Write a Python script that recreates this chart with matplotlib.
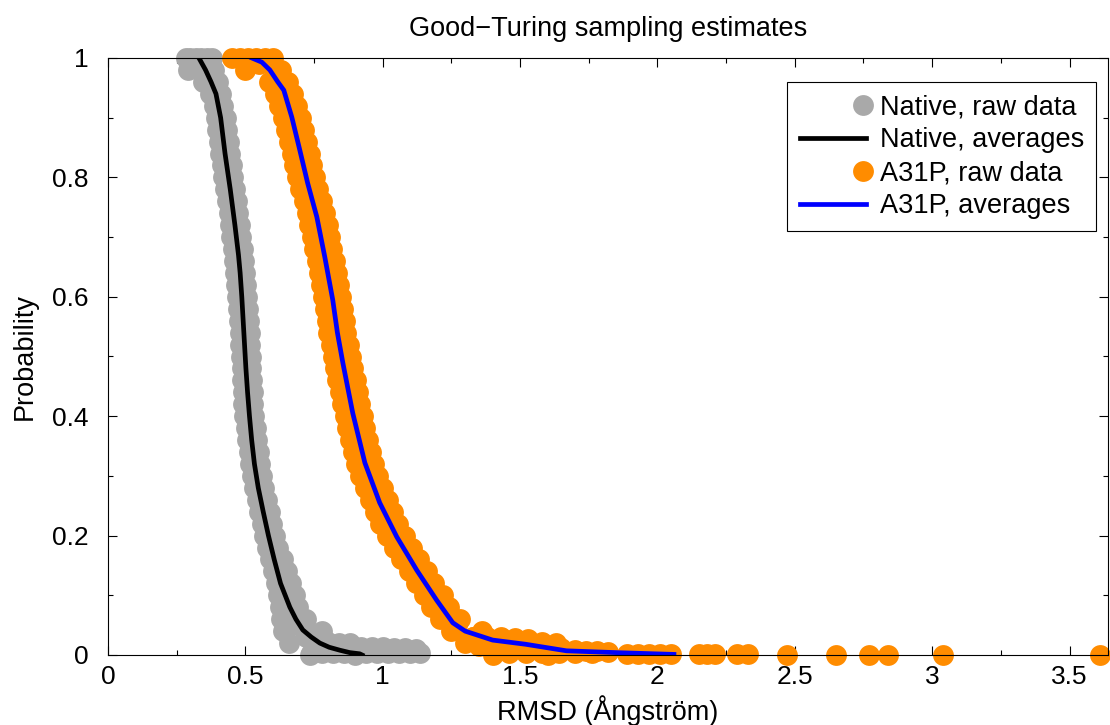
import matplotlib
matplotlib.use('Agg')
import matplotlib.pyplot as plt
from matplotlib.ticker import MultipleLocator, FuncFormatter
from matplotlib.legend_handler import HandlerLine2DCompound

plt.rcParams['font.family'] = ['Liberation Sans', 'DejaVu Sans']

# ---------------- data ----------------
p_levels = [1.00, 0.98, 0.96, 0.94, 0.92, 0.90, 0.88, 0.86, 0.84, 0.82,
            0.80, 0.78, 0.76, 0.74, 0.72, 0.70, 0.68, 0.66, 0.64, 0.62,
            0.60, 0.58, 0.56, 0.54, 0.52, 0.50, 0.48, 0.46, 0.44, 0.42,
            0.40, 0.38, 0.36, 0.34, 0.32, 0.30, 0.28, 0.26, 0.24, 0.22,
            0.20, 0.18, 0.16, 0.14, 0.12, 0.10, 0.08, 0.06, 0.04, 0.02, 0.00]
p_mid = [0.99, 0.97, 0.95, 0.93, 0.91, 0.89, 0.87, 0.85, 0.83, 0.81,
         0.79, 0.77, 0.75, 0.73, 0.71, 0.69, 0.67, 0.65, 0.63, 0.61,
         0.59, 0.57, 0.55, 0.53, 0.51, 0.49, 0.47, 0.45, 0.43, 0.41,
         0.39, 0.37, 0.35, 0.33, 0.31, 0.29, 0.27, 0.25, 0.23, 0.21,
         0.19, 0.17, 0.15, 0.13, 0.11, 0.09, 0.07, 0.05, 0.03, 0.01]

# Native, raw data: left edge, right edge and middle of the scatter band
native_lo = [0.284, 0.292, 0.345, 0.372, 0.385, 0.392, 0.398, 0.403, 0.408, 0.414,
             0.420, 0.427, 0.433, 0.439, 0.444, 0.449, 0.455, 0.459, 0.463, 0.467,
             0.470, 0.473, 0.476, 0.480, 0.482, 0.484, 0.486, 0.488, 0.490, 0.492,
             0.496, 0.501, 0.506, 0.512, 0.518, 0.525, 0.533, 0.542, 0.551, 0.560,
             0.569, 0.578, 0.590, 0.600, 0.610, 0.618, 0.625, 0.630, 0.636, 0.660, 0.735]
native_hi = [0.378, 0.385, 0.400, 0.412, 0.420, 0.428, 0.434, 0.439, 0.444, 0.450,
             0.456, 0.463, 0.469, 0.475, 0.480, 0.485, 0.491, 0.495, 0.499, 0.503,
             0.506, 0.509, 0.512, 0.516, 0.518, 0.520, 0.522, 0.524, 0.526, 0.528,
             0.532, 0.537, 0.542, 0.548, 0.554, 0.561, 0.569, 0.578, 0.588, 0.598,
             0.608, 0.620, 0.636, 0.650, 0.665, 0.680, 0.690, 0.720, 0.780, 0.880, 0.900]
native_mid = [0.340, 0.362, 0.385, 0.398, 0.406, 0.413, 0.418, 0.423, 0.429, 0.435,
              0.441, 0.448, 0.454, 0.459, 0.464, 0.470, 0.475, 0.479, 0.483, 0.486,
              0.489, 0.492, 0.496, 0.499, 0.501, 0.503, 0.505, 0.507, 0.509, 0.512,
              0.516, 0.521, 0.527, 0.533, 0.540, 0.547, 0.555, 0.565, 0.574, 0.583,
              0.592, 0.603, 0.614, 0.626, 0.640, 0.652, 0.670, 0.690, 0.720, 0.800]
native_extra_x = [0.300, 0.320, 0.340, 0.360,
                  0.720, 0.760, 0.800, 0.840, 0.880,
                  0.920, 0.960, 1.000, 1.040, 1.080, 1.120,
                  0.740, 0.780, 0.820, 0.860, 0.900, 0.940, 0.980, 1.020, 1.060, 1.100, 1.135]
native_extra_p = [1.000, 1.000, 1.000, 1.000,
                  0.035, 0.030, 0.022, 0.020, 0.018,
                  0.013, 0.013, 0.013, 0.012, 0.012, 0.010,
                  0.004, 0.004, 0.004, 0.004, 0.004, 0.004, 0.004, 0.004, 0.004, 0.004, 0.004]

# A31P, raw data
a31p_lo = [0.450, 0.500, 0.585, 0.607, 0.622, 0.636, 0.647, 0.658, 0.668, 0.678,
           0.689, 0.700, 0.712, 0.724, 0.733, 0.742, 0.751, 0.759, 0.767, 0.775,
           0.783, 0.789, 0.796, 0.802, 0.810, 0.818, 0.826, 0.835, 0.843, 0.852,
           0.861, 0.871, 0.882, 0.892, 0.904, 0.918, 0.934, 0.952, 0.971, 0.991,
           1.015, 1.042, 1.067, 1.094, 1.122, 1.152, 1.177, 1.210, 1.250, 1.300, 1.400]
a31p_hi = [0.600, 0.630, 0.655, 0.672, 0.688, 0.702, 0.713, 0.724, 0.734, 0.744,
           0.755, 0.766, 0.778, 0.790, 0.799, 0.808, 0.817, 0.825, 0.833, 0.841,
           0.849, 0.855, 0.862, 0.868, 0.876, 0.884, 0.892, 0.901, 0.909, 0.918,
           0.927, 0.937, 0.948, 0.958, 0.970, 0.984, 1.000, 1.018, 1.037, 1.057,
           1.081, 1.108, 1.133, 1.160, 1.188, 1.218, 1.243, 1.280, 1.360, 1.500, 1.600]
a31p_mid = [0.550, 0.605, 0.630, 0.648, 0.662, 0.675, 0.686, 0.696, 0.706, 0.716,
            0.727, 0.739, 0.751, 0.761, 0.770, 0.779, 0.788, 0.796, 0.804, 0.812,
            0.819, 0.826, 0.832, 0.839, 0.847, 0.855, 0.863, 0.872, 0.880, 0.890,
            0.899, 0.910, 0.920, 0.931, 0.944, 0.959, 0.976, 0.994, 1.014, 1.036,
            1.061, 1.088, 1.113, 1.141, 1.170, 1.197, 1.228, 1.270, 1.330, 1.450]
a31p_extra_x = [0.480, 0.510, 0.540, 0.570,
                1.330, 1.380, 1.430, 1.480, 1.530, 1.580, 1.630,
                1.350, 1.420, 1.570, 1.650,
                1.700, 1.740, 1.780, 1.820,
                1.460, 1.520, 1.580, 1.640, 1.700, 1.760,
                1.890, 1.930, 1.970, 2.010, 2.050, 2.150, 2.180, 2.210, 2.290, 2.330,
                2.470, 2.650, 2.770, 2.840, 3.040, 3.611]
a31p_extra_p = [1.000, 1.000, 1.000, 1.000,
                0.030, 0.030, 0.030, 0.028, 0.027, 0.022, 0.020,
                0.015, 0.015, 0.012, 0.012,
                0.008, 0.007, 0.006, 0.005,
                0.003, 0.003, 0.003, 0.003, 0.003, 0.003,
                0.001, 0.001, 0.001, 0.001, 0.001, 0.001, 0.001, 0.001, 0.001, 0.001,
                0.000, 0.000, 0.000, 0.000, 0.000, 0.000]

native_avg_x = [0.331, 0.355, 0.375, 0.393, 0.410, 0.426, 0.445, 0.462, 0.475, 0.481,
                0.487, 0.492, 0.497, 0.502, 0.508, 0.515, 0.523, 0.533, 0.547, 0.565,
                0.584, 0.605, 0.628, 0.645, 0.662, 0.684, 0.709, 0.740, 0.771, 0.805,
                0.844, 0.880, 0.916, 0.925]
native_avg_p = [1.000, 0.980, 0.960, 0.940, 0.900, 0.840, 0.780, 0.720, 0.670, 0.640,
                0.600, 0.560, 0.520, 0.480, 0.440, 0.400, 0.360, 0.320, 0.280, 0.240,
                0.200, 0.160, 0.120, 0.100, 0.080, 0.060, 0.042, 0.030, 0.020, 0.013,
                0.008, 0.004, 0.002, 0.000]

a31p_avg_x = [0.524, 0.560, 0.589, 0.618, 0.640, 0.669, 0.698, 0.727, 0.760, 0.789,
              0.818, 0.835, 0.855, 0.891, 0.935, 0.989, 1.051, 1.124, 1.196, 1.255,
              1.300, 1.400, 1.520, 1.669, 1.850, 2.060]
a31p_avg_p = [1.000, 0.993, 0.980, 0.960, 0.946, 0.901, 0.846, 0.790, 0.734, 0.667,
              0.595, 0.540, 0.489, 0.405, 0.322, 0.255, 0.198, 0.142, 0.092, 0.054,
              0.040, 0.025, 0.018, 0.007, 0.004, 0.001]

labels = ['Native, raw data', 'Native, averages', 'A31P, raw data', 'A31P, averages']
title = 'Good\u2212Turing sampling estimates'
xlabel = 'RMSD (\u00c5ngstr\u00f6m)'
ylabel = 'Probability'

# ---------------- figure ----------------
fig = plt.figure(figsize=(11.1, 7.25), dpi=100)
ax = fig.add_axes([108 / 1110, 70 / 725, 1000 / 1110, 597 / 725])

GRAY = '#a9a9a9'
ORANGE = '#ff8c00'
BLUE = '#0000ff'
MS = 15.0

nat_x = native_lo + native_hi + native_mid + native_extra_x
nat_p = p_levels + p_levels + p_mid + native_extra_p
a_x = a31p_lo + a31p_hi + a31p_mid + a31p_extra_x
a_p = p_levels + p_levels + p_mid + a31p_extra_p

h1, = ax.plot(nat_x, nat_p, 'o', color=GRAY, ms=MS, mew=0, clip_on=False, label=labels[0])
h2, = ax.plot(native_avg_x, native_avg_p, '-', color='black', lw=3.4, label=labels[1])
h3, = ax.plot(a_x, a_p, 'o', color=ORANGE, ms=MS, mew=0, clip_on=False, label=labels[2])
h4, = ax.plot(a31p_avg_x, a31p_avg_p, '-', color=BLUE, lw=3.4, label=labels[3])

ax.set_xlim(0, 3.64)
ax.set_ylim(0, 1)

fmt = FuncFormatter(lambda v, pos: f'{v:g}')
ax.xaxis.set_major_locator(MultipleLocator(0.5))
ax.xaxis.set_minor_locator(MultipleLocator(0.25))
ax.yaxis.set_major_locator(MultipleLocator(0.2))
ax.yaxis.set_minor_locator(MultipleLocator(0.1))
ax.xaxis.set_major_formatter(fmt)
ax.yaxis.set_major_formatter(fmt)
ax.tick_params(which='both', direction='in', top=True, right=True, width=0.8, labelsize=19)
ax.tick_params(which='major', length=6.5)
ax.tick_params(which='minor', length=3.5)
ax.tick_params(axis='x', which='major', pad=7)
ax.tick_params(axis='y', which='major', pad=14)
for s in ax.spines.values():
    s.set_linewidth(0.8)

ax.set_title(title, fontsize=19.5, pad=16)
ax.set_xlabel(xlabel, fontsize=19.5, labelpad=4.5)
ax.set_ylabel(ylabel, fontsize=19.5, labelpad=10)


class RightMarkerHandler(HandlerLine2DCompound):
    def get_xdata(self, legend, xdescent, ydescent, width, height, fontsize):
        xdata = [-xdescent, -xdescent + width]
        xmark = [-xdescent + width - 0.12 * fontsize]
        return xdata, xmark


leg = ax.legend(handles=[h1, h2, h3, h4], loc='upper right',
                bbox_to_anchor=(0.988, 0.960), fontsize=19.5, frameon=True,
                fancybox=False, edgecolor='black', framealpha=1,
                handlelength=2.45, handletextpad=0.5, labelspacing=0.26,
                borderpad=0.45, borderaxespad=0,
                handler_map={h1: RightMarkerHandler(),
                             h3: RightMarkerHandler()})
leg.get_frame().set_linewidth(0.8)
for h in leg.legend_handles:
    if h.get_marker() == 'o':
        h.set_markersize(13)

fig.savefig('out.png', dpi=100)
